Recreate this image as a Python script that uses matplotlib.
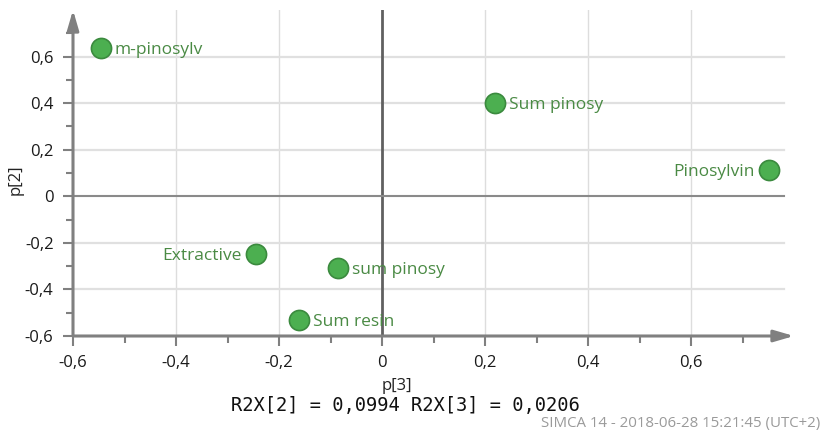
import matplotlib
matplotlib.use("Agg")
import matplotlib.pyplot as plt
from matplotlib.ticker import FuncFormatter

# Loadings p[3] (x) vs p[2] (y)
names = ["m-pinosylv", "Sum pinosy", "Pinosylvin", "Extractive", "sum pinosy", "Sum resin"]
p3 = [-0.546, 0.219, 0.751, -0.245, -0.085, -0.161]
p2 = [0.635, 0.399, 0.112, -0.249, -0.309, -0.532]
label_side = ["right", "right", "left", "left", "right", "right"]

xticks = [-0.6, -0.4, -0.2, 0, 0.2, 0.4, 0.6]
yticks = [-0.6, -0.4, -0.2, 0, 0.2, 0.4, 0.6]

plt.rcParams["font.family"] = ["Open Sans", "DejaVu Sans"]

W, H = 822, 434
fig = plt.figure(figsize=(W / 100, H / 100), dpi=100)
left, right, top, bottom = 73, 794, 10, 336
ax = fig.add_axes([left / W, (H - bottom) / H, (right - left) / W, (bottom - top) / H])
ax.set_xlim(-0.6, 0.8)
ax.set_ylim(-0.6, 0.8)
for s in ax.spines.values():
    s.set_visible(False)

xend = (0.78 + 0.6) / 1.4

# grid
for v in xticks:
    if v not in (-0.6, 0):
        ax.axvline(v, color="#dddddd", lw=1, zorder=0)
for v in yticks:
    if v not in (-0.6, 0):
        ax.axhline(v, xmax=xend, color="#e0e0e0", lw=1.6, zorder=0)

# zero lines
ax.axvline(0, color="#606060", lw=2, zorder=1)
ax.axhline(0, xmax=xend, color="#8a8a8a", lw=1.5, zorder=1)

# axes with arrows
arrow = dict(arrowstyle="-|>,head_length=1.2,head_width=0.35",
             color="#808080", lw=2.2, shrinkA=0, shrinkB=0)
ax.annotate("", xy=(0.8, -0.6), xytext=(-0.6, -0.6), arrowprops=arrow,
            annotation_clip=False, zorder=3)
ax.annotate("", xy=(-0.6, 0.8), xytext=(-0.6, -0.6), arrowprops=arrow,
            annotation_clip=False, zorder=3)

fmt = FuncFormatter(lambda v, p: ("%g" % round(v, 2)).replace(".", ","))
minor = [-0.5, -0.3, -0.1, 0.1, 0.3, 0.5, 0.7]
ax.xaxis.set_major_locator(plt.FixedLocator(xticks))
ax.yaxis.set_major_locator(plt.FixedLocator(yticks))
ax.xaxis.set_minor_locator(plt.FixedLocator(minor))
ax.yaxis.set_minor_locator(plt.FixedLocator(minor))
ax.xaxis.set_major_formatter(fmt)
ax.yaxis.set_major_formatter(fmt)
ax.tick_params(which="major", direction="out", length=7, width=1.5, color="#808080",
               labelsize=12, labelcolor="#1a1a1a", pad=7)
ax.tick_params(which="minor", direction="out", length=5, width=1.5, color="#808080")

# points and labels
ax.scatter(p3, p2, s=210, color="#4caf50", edgecolor="#3b8a3e", linewidth=1.2, zorder=5)
for n, x, y, side in zip(names, p3, p2, label_side):
    off = 10 if side == "right" else -10
    ax.annotate(n, (x, y), xytext=(off, -1), textcoords="offset points",
                ha="left" if side == "right" else "right", va="center",
                fontsize=12.5, color="#4a8a44", zorder=6)

fig.text(397 / W, 1 - 386 / H, "p[3]", ha="center", va="center", fontsize=12, color="#222222")
fig.text(16 / W, 1 - 180 / H, "p[2]", ha="center", va="center", rotation=90,
         fontsize=12, color="#222222")
fig.text(405 / W, 1 - 406 / H, "R2X[2] = 0,0994 R2X[3] = 0,0206", ha="center", va="center",
         fontsize=13.5, color="#111111", family="DejaVu Sans Mono")
fig.text(820 / W, 1 - 423 / H, "SIMCA 14 - 2018-06-28 15:21:45 (UTC+2)", ha="right",
         va="center", fontsize=10.8, color="#9a9a9a")

fig.savefig("out.png", dpi=100)
